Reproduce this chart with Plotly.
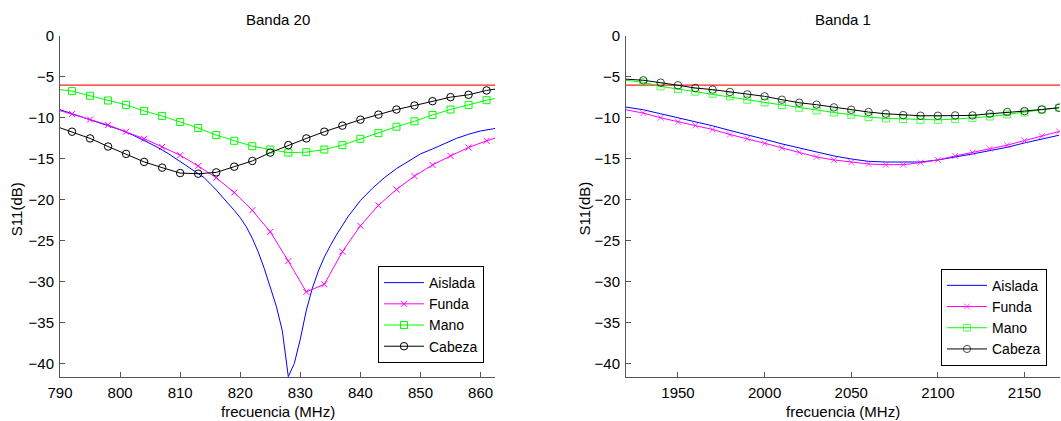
import plotly.graph_objects as go

# ---------------- Data ----------------
# Banda 20 (MHz)
freq_b20 = [789, 792, 795, 798, 801, 804, 807, 810, 813, 816, 819, 822, 825,
            828, 831, 834, 837, 840, 843, 846, 849, 852, 855, 858, 861, 864]
funda_b20 = [-8.9, -9.52, -10.2, -10.87, -11.69, -12.55, -13.54, -14.56, -15.88,
             -17.31, -19.12, -21.29, -23.92, -27.49, -31.26, -30.32, -26.34, -23.18,
             -20.68, -18.75, -17.11, -15.75, -14.65, -13.62, -12.8, -12.1]
mano_b20 = [-6.45, -6.73, -7.30, -7.88, -8.41, -9.15, -9.76, -10.50, -11.24,
            -12.10, -12.80, -13.46, -13.87, -14.24, -14.19, -13.87, -13.33, -12.55,
            -11.86, -11.08, -10.42, -9.64, -8.98, -8.41, -7.84, -7.4]
cabeza_b20 = [-10.95, -11.69, -12.51, -13.50, -14.40, -15.38, -16.08, -16.74, -16.82,
              -16.66, -15.96, -15.26, -14.24, -13.33, -12.51, -11.69, -10.95, -10.22,
              -9.60, -8.98, -8.49, -7.96, -7.47, -7.18, -6.65, -6.3]

freq_aislada_b20 = [790, 792, 794, 796, 798, 800, 802, 804, 806, 808, 810, 812, 814,
                    816, 818, 819, 820, 821, 822, 823, 824, 825, 826, 827, 828, 829, 830,
                    831, 832, 833, 834, 835, 836, 838, 840, 842, 844, 846, 848, 850,
                    852, 854, 856, 858, 860, 862, 863]
aislada_b20 = [-9.0, -9.5, -9.95, -10.45, -10.95, -11.45, -12.05, -12.75, -13.5,
               -14.35, -15.3, -16.3, -17.3, -18.8, -20.4, -21.3, -22.2, -23.3, -24.7,
               -26.4, -28.4, -30.6, -33.0, -36.0, -41.6, -40.0, -37.0, -33.5, -30.8, -28.7,
               -27.0, -25.6, -24.3, -22.0, -20.1, -18.6, -17.3, -16.2, -15.3, -14.4,
               -13.8, -13.1, -12.5, -12.0, -11.6, -11.35, -11.2]

# Banda 1 (MHz)
freq_b1 = [1920, 1930, 1940, 1950, 1960, 1970, 1980, 1990, 2000, 2010, 2020, 2030,
           2040, 2050, 2060, 2070, 2080, 2090, 2100, 2110, 2120, 2130, 2140, 2150,
           2160, 2170]
aislada_b1 = [-8.68, -9.01, -9.50, -9.99, -10.44, -10.97, -11.54, -12.03, -12.61,
              -13.18, -13.67, -14.20, -14.65, -15.02, -15.31, -15.39, -15.43, -15.39,
              -15.14, -14.82, -14.41, -14.0, -13.59, -13.06, -12.61, -12.12]
funda_b1 = [-9.01, -9.42, -9.99, -10.48, -10.93, -11.42, -12.03, -12.53, -13.10,
            -13.67, -14.20, -14.78, -15.14, -15.43, -15.63, -15.72, -15.72, -15.47,
            -15.14, -14.65, -14.24, -13.75, -13.34, -12.77, -12.24, -11.67]
mano_b1 = [-5.41, -5.65, -6.15, -6.47, -6.80, -7.05, -7.37, -7.78, -8.11, -8.44,
           -8.76, -9.09, -9.34, -9.62, -9.91, -10.07, -10.15, -10.24, -10.24, -10.15,
           -10.03, -9.83, -9.58, -9.34, -9.01, -8.76]
cabeza_b1 = [-5.27, -5.41, -5.70, -6.02, -6.35, -6.55, -6.84, -7.13, -7.37, -7.78,
             -8.15, -8.39, -8.72, -9.01, -9.29, -9.50, -9.66, -9.74, -9.74, -9.70,
             -9.70, -9.50, -9.29, -9.17, -8.97, -8.76]

threshold_db = -6
series_names = ["Aislada", "Funda", "Mano", "Cabeza"]
x_ticks_b20 = [790, 800, 810, 820, 830, 840, 850, 860]
x_ticks_b1 = [1950, 2000, 2050, 2100, 2150]
y_ticks = [0, -5, -10, -15, -20, -25, -30, -35, -40]
titles = ["Banda 20", "Banda 1"]
x_title = "frecuencia (MHz)"
y_title = "S11(dB)"

# ---------------- Styles ----------------
FONT = "Arial, Liberation Sans, sans-serif"
AX_COL = "#555555"
C_BLUE, C_MAG, C_GREEN, C_BLACK, C_RED = "#0000FF", "#FF00FF", "#00FF00", "#000000", "#FF2020"

fig = go.Figure()

def add_series(x, y, name, color, symbol, xa, ya, leg, msize=None, mode="lines+markers"):
    kw = dict(x=x, y=y, name=name, mode=mode, xaxis=xa, yaxis=ya, legend=leg,
              line=dict(color=color, width=1))
    if mode != "lines":
        kw["marker"] = dict(symbol=symbol, color=color,
                            size=msize if msize is not None else 7,
                            line=dict(color=color, width=1))
    fig.add_trace(go.Scatter(**kw))

# Banda 20
add_series(freq_aislada_b20, aislada_b20, series_names[0], C_BLUE, None, "x", "y", "legend", mode="lines")
add_series(freq_b20, funda_b20, series_names[1], C_MAG, "x-thin-open", "x", "y", "legend", msize=6)
add_series(freq_b20, mano_b20, series_names[2], C_GREEN, "square-open", "x", "y", "legend", msize=7)
add_series(freq_b20, cabeza_b20, series_names[3], C_BLACK, "circle-open", "x", "y", "legend", msize=7.5)

# Banda 1 (no marker at the first sample)
def sizes(n, s):
    return [0] + [s] * (n - 1)

add_series(freq_b1, aislada_b1, series_names[0], C_BLUE, None, "x2", "y2", "legend2", mode="lines")
add_series(freq_b1, funda_b1, series_names[1], C_MAG, "x-thin-open", "x2", "y2", "legend2",
           msize=sizes(len(freq_b1), 6))
add_series(freq_b1, mano_b1, series_names[2], C_GREEN, "square-open", "x2", "y2", "legend2",
           msize=sizes(len(freq_b1), 7))
add_series(freq_b1, cabeza_b1, series_names[3], C_BLACK, "circle-open", "x2", "y2", "legend2",
           msize=sizes(len(freq_b1), 7.5))

# threshold lines
for xr, yr in [("x domain", "y"), ("x2 domain", "y2")]:
    fig.add_shape(type="line", xref=xr, yref=yr, x0=0, x1=1, y0=threshold_db, y1=threshold_db,
                  line=dict(color=C_RED, width=1.3), layer="below")

axis_common = dict(showline=True, linecolor=AX_COL, linewidth=1, ticks="inside", ticklen=5,
                   tickcolor=AX_COL, tickwidth=1, showgrid=False, zeroline=False,
                   tickfont=dict(family=FONT, size=15, color="#000"), mirror=False)

leg_font = dict(family=FONT, size=14, color="#000")
fig.update_layout(
    width=1061, height=421,
    margin=dict(l=60, r=1, t=36, b=44),
    paper_bgcolor="white", plot_bgcolor="white",
    font=dict(family=FONT, size=15, color="#000"),
    xaxis=dict(domain=[0, 0.435], range=[790, 862.4], tickvals=x_ticks_b20,
               anchor="y", ticklabelstandoff=2, **axis_common),
    yaxis=dict(domain=[0, 1], range=[-41.65, 0], tickvals=y_ticks, anchor="x",
               ticklabelstandoff=2, **axis_common),
    xaxis2=dict(domain=[0.566, 1.0], range=[1920, 2170.5], tickvals=x_ticks_b1,
                anchor="y2", ticklabelstandoff=2, **axis_common),
    yaxis2=dict(domain=[0, 1], range=[-41.65, 0], tickvals=y_ticks, anchor="x2",
                ticklabelstandoff=2, **axis_common),
    legend=dict(x=0.424, y=0.041, xanchor="right", yanchor="bottom",
                bgcolor="white", bordercolor="#000", borderwidth=1,
                font=leg_font, itemwidth=40, tracegroupgap=0),
    legend2=dict(x=0.987, y=0.033, xanchor="right", yanchor="bottom",
                 bgcolor="white", bordercolor="#000", borderwidth=1,
                 font=leg_font, itemwidth=40, tracegroupgap=0),
    showlegend=True,
)

ann = []
for cx, t in [(0.2175, titles[0]), (0.783, titles[1])]:
    ann.append(dict(x=cx, y=1.0484, xref="paper", yref="paper", text=t, showarrow=False,
                    xanchor="center", yanchor="middle", font=dict(family=FONT, size=15, color="#000")))
    ann.append(dict(x=cx, y=-0.1026, xref="paper", yref="paper", text=x_title, showarrow=False,
                    xanchor="center", yanchor="middle", font=dict(family=FONT, size=15, color="#000")))
for cx in [-0.0428, 0.5246]:
    ann.append(dict(x=cx, y=0.4927, xref="paper", yref="paper", text=y_title, showarrow=False,
                    textangle=-90, xanchor="center", yanchor="middle",
                    font=dict(family=FONT, size=15, color="#000")))
fig.update_layout(annotations=ann)

fig.write_html("out.html")
